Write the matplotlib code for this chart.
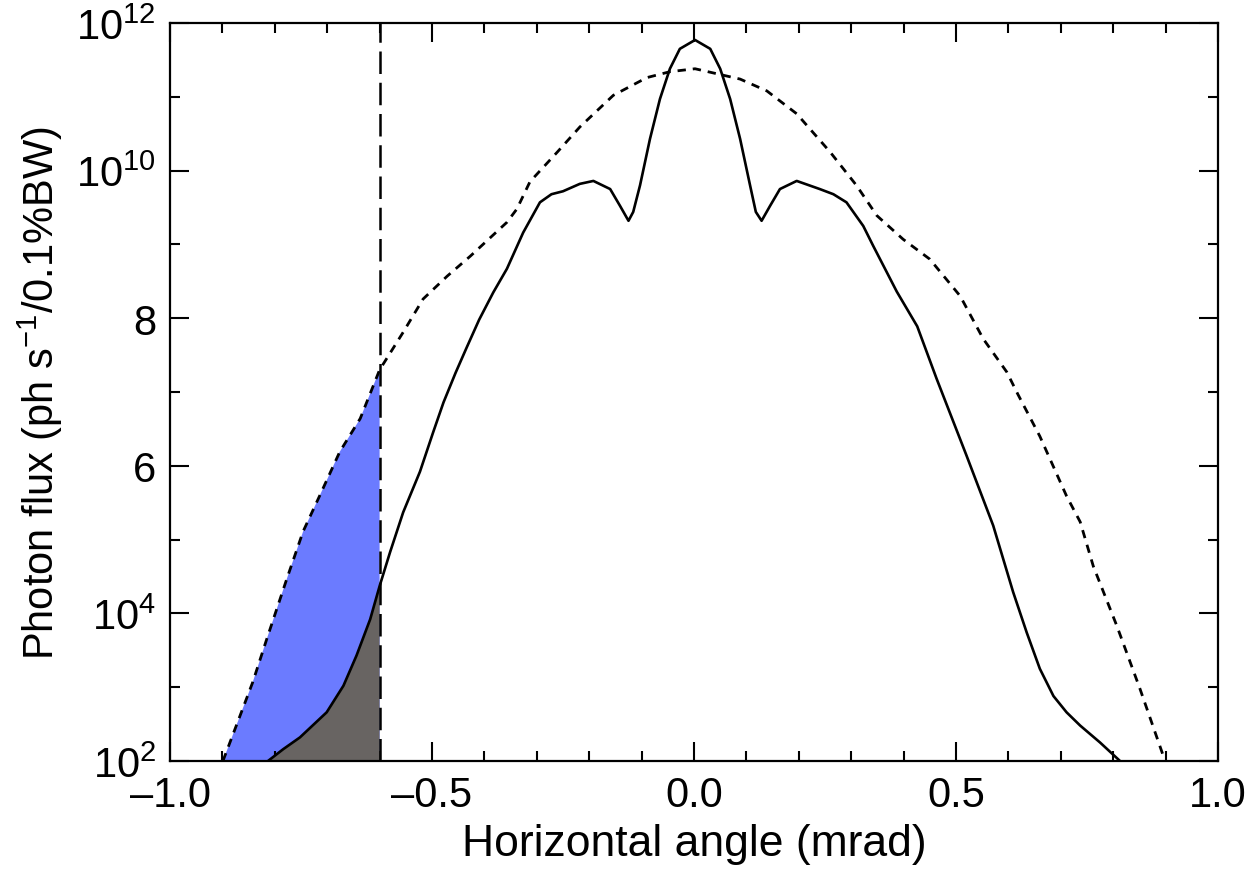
import numpy as np
import matplotlib
matplotlib.use('Agg')
import matplotlib.pyplot as plt
from matplotlib.ticker import FixedLocator, MultipleLocator

plt.rcParams['font.family'] = ['Liberation Sans', 'DejaVu Sans']
plt.rcParams['mathtext.fontset'] = 'custom'
plt.rcParams['mathtext.rm'] = 'Liberation Sans'
plt.rcParams['mathtext.it'] = 'Liberation Sans:italic'
plt.rcParams['mathtext.bf'] = 'Liberation Sans:bold'

# solid curve: angle (mrad) and log10 of flux
solid_x = [-0.813, -0.784, -0.752, -0.701, -0.669, -0.644, -0.618, -0.600, -0.580,
           -0.555, -0.523, -0.498, -0.478, -0.455, -0.434, -0.410, -0.383, -0.357,
           -0.326, -0.294, -0.272, -0.250, -0.218, -0.192, -0.160, -0.141, -0.125,
           -0.116, -0.103, -0.084, -0.065, -0.046, -0.027, 0.002, 0.031, 0.050,
           0.069, 0.088, 0.107, 0.118, 0.129, 0.145, 0.164, 0.196, 0.240, 0.266,
           0.291, 0.323, 0.342, 0.387, 0.426, 0.463, 0.520, 0.571, 0.609, 0.635,
           0.660, 0.686, 0.711, 0.737, 0.775, 0.813]
solid_log = [2.0, 2.16, 2.32, 2.66, 3.02, 3.43, 3.92, 4.37, 4.83,
             5.37, 5.92, 6.45, 6.86, 7.26, 7.60, 7.98, 8.35, 8.67,
             9.16, 9.57, 9.68, 9.72, 9.82, 9.86, 9.75, 9.52, 9.32,
             9.44, 9.80, 10.43, 10.97, 11.38, 11.65, 11.77, 11.65, 11.38,
             10.97, 10.43, 9.80, 9.44, 9.32, 9.52, 9.75, 9.86, 9.75, 9.68,
             9.57, 9.25, 8.98, 8.36, 7.89, 7.18, 6.14, 5.19, 4.29, 3.74,
             3.25, 2.88, 2.66, 2.48, 2.25, 2.0]

# dashed curve
dash_x = [-0.899, -0.842, -0.815, -0.777, -0.746, -0.714, -0.676, -0.637, -0.600,
          -0.555, -0.517, -0.471, -0.427, -0.357, -0.338, -0.313, -0.261, -0.218,
          -0.154, -0.090, -0.046, 0.002, 0.088, 0.139, 0.196, 0.260, 0.310, 0.349,
          0.399, 0.450, 0.508, 0.552, 0.597, 0.618, 0.660, 0.711, 0.737, 0.762,
          0.807, 0.851, 0.899]
dash_log = [2.0, 3.07, 3.66, 4.47, 5.11, 5.60, 6.19, 6.64, 7.30,
            7.81, 8.26, 8.57, 8.84, 9.30, 9.48, 9.85, 10.25, 10.59,
            11.02, 11.26, 11.34, 11.38, 11.24, 11.08, 10.77, 10.25, 9.80, 9.39,
            9.07, 8.80, 8.30, 7.72, 7.27, 6.97, 6.40, 5.59, 5.24, 4.64,
            3.83, 2.98, 2.0]

cut_angle = -0.6
y_min, y_max = 1e2, 1e12
ytick_vals = [1e2, 1e4, 1e6, 1e8, 1e10, 1e12]
ytick_labels = ['$10^2$', '$10^4$', '6', '8', '$10^{10}$', '$10^{12}$']
yminor_vals = [1e3, 1e5, 1e7, 1e9, 1e11]

solid_x = np.array(solid_x)
solid_y = 10.0 ** np.array(solid_log)
dash_x = np.array(dash_x)
dash_y = 10.0 ** np.array(dash_log)

fig = plt.figure(figsize=(12.55, 8.78), dpi=100)
ax = fig.add_axes([170/1255, 116/878, 1048/1255, 738/878])

# shaded regions left of the cut
m = dash_x <= cut_angle + 1e-9
ax.fill(np.r_[dash_x[m], cut_angle], np.r_[dash_y[m], y_min],
        color='#6b7bff', lw=0, zorder=1)
m = solid_x <= cut_angle + 1e-9
ax.fill(np.r_[solid_x[m], cut_angle], np.r_[solid_y[m], y_min],
        color='#686462', lw=0, zorder=2)

ax.plot(dash_x, dash_y, color='black', lw=2.0, dashes=(3, 2.5), zorder=3)
ax.plot(solid_x, solid_y, color='black', lw=1.9, zorder=4, solid_joinstyle='round')
ax.axvline(cut_angle, color='black', lw=1.8, dashes=(9, 3.5), zorder=5)

ax.set_yscale('log')
ax.set_xlim(-1.0, 1.0)
ax.set_ylim(y_min, y_max)
ax.xaxis.set_major_locator(MultipleLocator(0.5))
ax.xaxis.set_minor_locator(MultipleLocator(0.1))
ax.xaxis.set_major_formatter(plt.FuncFormatter(lambda v, p: f'{v:.1f}'.replace('-', '\u2013')))
ax.set_yticks(ytick_vals)
ax.set_yticklabels(ytick_labels)
ax.yaxis.set_minor_locator(FixedLocator(yminor_vals))
ax.yaxis.set_minor_formatter(plt.NullFormatter())

ax.tick_params(which='both', direction='in', top=True, right=True, width=1.5,
               labelsize=30, pad=10)
ax.tick_params(which='major', length=14)
ax.tick_params(which='minor', length=7)
for s in ax.spines.values():
    s.set_linewidth(1.6)

ax.set_xlabel('Horizontal angle (mrad)', fontsize=32, labelpad=6)
ax.set_ylabel('Photon flux (ph s$^{\u2212 1}$/0.1%BW)', fontsize=30, labelpad=8)

fig.savefig('out.png', dpi=100)
